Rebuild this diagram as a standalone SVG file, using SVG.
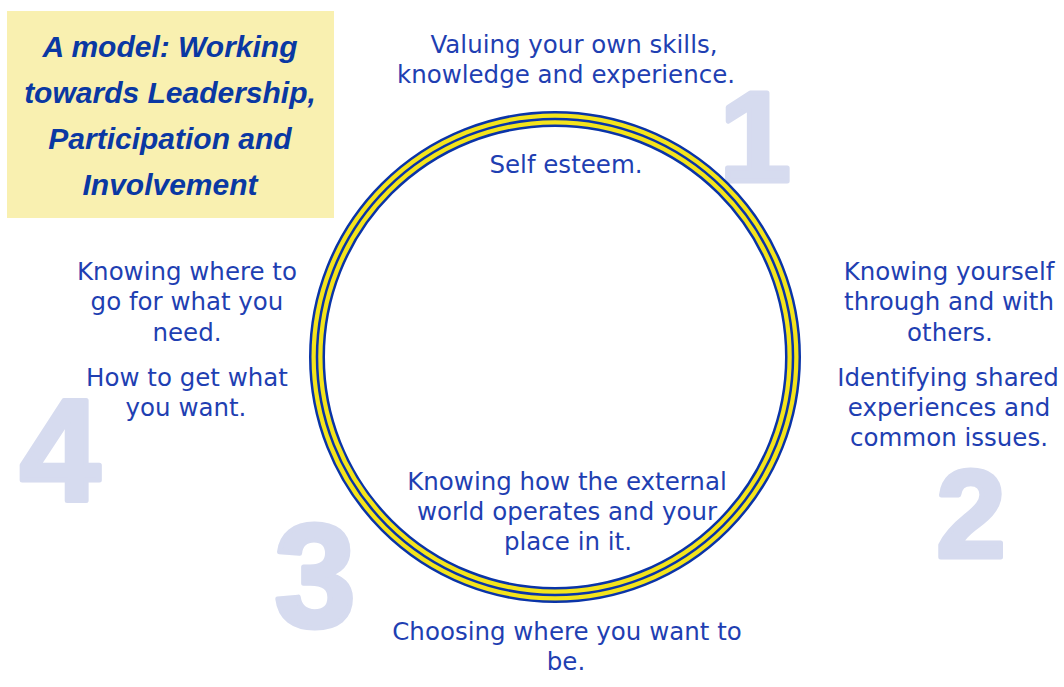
<svg xmlns="http://www.w3.org/2000/svg" width="1064" height="687" viewBox="0 0 1064 687">
<style>
.t{font-family:"DejaVu Sans","Liberation Sans",sans-serif;font-size:24.5px;fill:#1f3fb2;text-anchor:middle}
.title{font-family:"Liberation Sans",Arial,sans-serif;font-size:30px;font-weight:bold;font-style:italic;fill:#0a38a3;text-anchor:middle}
.num{font-family:"Liberation Sans",Arial,sans-serif;font-weight:bold;fill:#d6dbef;stroke:#d6dbef;stroke-width:5;stroke-linejoin:round;text-anchor:middle}
</style>
<rect width="1064" height="687" fill="#ffffff"/>
<g id="numbers">
<text class="num" x="755" y="181" font-size="128">1</text>
<text class="num" x="971" y="557" font-size="124">2</text>
<text class="num" x="315" y="626" font-size="146">3</text>
<text class="num" x="60" y="500" font-size="144">4</text>
</g>
<g id="title">
<rect x="7" y="11" width="327" height="207" fill="#f9f0b0"/>
<text class="title" x="170" y="57">A model: Working</text>
<text class="title" x="170" y="103">towards Leadership,</text>
<text class="title" x="170" y="149">Participation and</text>
<text class="title" x="170" y="195">Involvement</text>
</g>
<g id="ring">
<circle cx="555" cy="357" r="238" fill="none" stroke="#0a34a8" stroke-width="16"/>
<circle cx="555" cy="357" r="238" fill="none" stroke="#f4e41c" stroke-width="11"/>
<circle cx="555" cy="357" r="238" fill="none" stroke="#0a34a8" stroke-width="2.5"/>
</g>
<g id="node1">
<text class="t" x="574" y="53">Valuing your own skills,</text>
<text class="t" x="566" y="83">knowledge and experience.</text>
<text class="t" x="566" y="173">Self esteem.</text>
</g>
<g id="node2">
<text class="t" x="949" y="280">Knowing yourself</text>
<text class="t" x="949" y="310">through and with</text>
<text class="t" x="950" y="341">others.</text>
<text class="t" x="948" y="386">Identifying shared</text>
<text class="t" x="949" y="416">experiences and</text>
<text class="t" x="949" y="446">common issues.</text>
</g>
<g id="node3">
<text class="t" x="567" y="490">Knowing how the external</text>
<text class="t" x="567" y="520">world operates and your</text>
<text class="t" x="568" y="550">place in it.</text>
<text class="t" x="567" y="640">Choosing where you want to</text>
<text class="t" x="566" y="670">be.</text>
</g>
<g id="node4">
<text class="t" x="187" y="280">Knowing where to</text>
<text class="t" x="187" y="310">go for what you</text>
<text class="t" x="187" y="341">need.</text>
<text class="t" x="187" y="386">How to get what</text>
<text class="t" x="186" y="416">you want.</text>
</g>
<g id="connectors"></g>
</svg>
